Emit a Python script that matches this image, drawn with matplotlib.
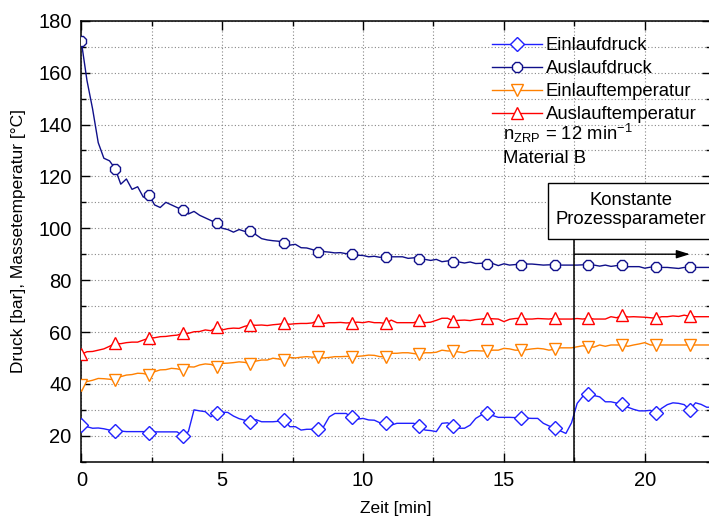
import numpy as np
import matplotlib
matplotlib.use('Agg')
import matplotlib.pyplot as plt
from matplotlib.patches import Rectangle
from matplotlib.ticker import MultipleLocator

plt.rcParams['font.family'] = ['Liberation Sans', 'DejaVu Sans']
plt.rcParams['mathtext.default'] = 'regular'

# sample every 0.2 min, 10 values per row (= 2 min)
step = 0.2

einlaufdruck = [
    24.1, 23.5, 22.9, 23.0, 22.7, 22.2, 21.9, 21.8, 21.6, 21.6,
    21.6, 21.6, 21.2, 21.5, 21.5, 21.5, 21.5, 21.5, 20.0, 21.6,
    30.0, 29.6, 29.3, 27.3, 28.9, 29.1, 29.0, 27.6, 26.6, 26.0,
    25.4, 26.2, 25.4, 25.4, 25.4, 25.6, 26.1, 23.5, 23.5, 22.2,
    22.5, 22.5, 22.5, 23.5, 27.3, 28.6, 28.6, 28.6, 27.1, 26.4,
    26.7, 26.1, 26.0, 25.0, 25.0, 24.1, 24.8, 24.8, 24.8, 24.8,
    23.8, 22.2, 22.0, 21.6, 24.8, 25.0, 23.8, 22.9, 22.9, 24.1,
    26.7, 28.0, 28.9, 27.8, 27.1, 27.1, 27.1, 27.0, 26.7, 26.8,
    26.7, 26.7, 24.8, 23.8, 22.9, 21.9, 20.9, 25.0, 32.5, 35.2,
    36.0, 35.5, 35.0, 33.1, 33.1, 32.6, 32.1, 31.0, 30.2, 29.6,
    29.6, 29.8, 28.6, 30.6, 32.0, 32.7, 32.5, 32.0, 30.0, 32.7,
    32.1, 31.0, 31.0,
]

auslaufdruck = [
    172, 157, 146, 133, 127, 126, 123, 117, 119, 115,
    116, 112, 113, 109, 108, 110, 109, 108, 107, 105.5,
    106.5, 105, 104, 103, 102, 100, 99.5, 98.5, 99.5, 98.8,
    99, 97.5, 96, 95.5, 95.2, 95, 94.2, 93.5, 93.8, 92.5,
    92.4, 91.8, 91, 91, 90.8, 90.5, 90.6, 90.2, 90, 89.6,
    89.5, 89.0, 89.2, 88.8, 89.0, 89.0, 89.0, 89.0, 88.4, 88.6,
    88.1, 88.0, 87.6, 88.0, 87.1, 87.4, 87.0, 87.0, 86.6, 87.0,
    86.4, 86.5, 86.1, 86.4, 85.6, 86.3, 85.8, 86.0, 85.8, 86.2,
    86.2, 86.0, 85.8, 85.9, 85.8, 85.8, 85.8, 85.8, 85.8, 85.9,
    85.8, 85.8, 85.4, 85.8, 85.3, 85.6, 85.8, 85.2, 85.2, 85.2,
    84.6, 85.0, 84.9, 84.9, 84.9, 84.7, 84.5, 84.9, 84.9, 84.9,
    84.9, 84.9, 84.9,
]

einlauftemp = [
    39.6, 40.9, 41.4, 42.1, 42.0, 41.8, 41.5, 42.8, 43.4, 43.6,
    44.1, 44.0, 43.4, 44.7, 45.4, 45.5, 46.0, 45.8, 45.3, 46.6,
    46.5, 47.3, 47.7, 47.5, 46.6, 47.9, 48.0, 48.2, 48.5, 48.3,
    47.7, 48.8, 49.2, 49.2, 49.9, 49.6, 49.2, 50.2, 50.0, 50.3,
    50.5, 50.3, 50.5, 50.0, 50.2, 50.5, 50.5, 50.6, 50.5, 50.6,
    50.8, 51.1, 51.0, 50.5, 50.5, 51.8, 51.8, 52.0, 52.0, 51.7,
    51.4, 52.0, 52.0, 52.2, 53.0, 52.7, 52.7, 52.3, 52.0, 52.8,
    52.8, 52.7, 52.7, 53.0, 53.0, 53.7, 53.5, 53.0, 53.0, 53.2,
    53.5, 53.7, 53.5, 53.0, 53.4, 53.9, 53.9, 53.9, 54.3, 54.7,
    54.2, 54.2, 55.0, 54.5, 55.0, 55.0, 55.0, 54.5, 55.0, 55.4,
    55.9, 55.0, 55.0, 55.0, 55.0, 55.0, 55.0, 55.0, 55.0, 55.0,
    55.0, 55.0, 55.0,
]

auslauftemp = [
    51.4, 52.4, 52.5, 53.0, 53.5, 54.5, 55.6, 55.5, 55.9, 56.1,
    56.1, 56.9, 57.6, 57.8, 58.2, 58.3, 58.6, 58.8, 59.5, 59.5,
    60.1, 60.2, 60.8, 60.5, 62.0, 60.8, 61.3, 61.5, 61.4, 62.2,
    62.7, 62.6, 62.7, 62.5, 62.8, 63.0, 63.3, 63.0, 63.2, 63.3,
    63.3, 63.5, 64.6, 63.3, 63.6, 63.6, 63.7, 63.5, 63.6, 63.8,
    63.6, 64.0, 63.6, 63.6, 63.3, 64.6, 63.6, 63.6, 63.6, 63.6,
    64.6, 63.6, 63.8, 64.5, 65.3, 65.3, 64.3, 64.5, 64.6, 64.4,
    64.8, 65.0, 65.3, 65.1, 65.0, 64.0, 64.9, 65.2, 65.3, 65.0,
    65.0, 65.2, 65.1, 65.0, 65.3, 65.0, 65.0, 65.0, 65.2, 65.0,
    65.3, 65.0, 65.0, 65.0, 65.9, 65.5, 66.5, 65.8, 65.9, 65.8,
    65.7, 65.5, 65.3, 65.9, 65.9, 66.2, 66.0, 66.5, 66.0, 65.9,
    65.9, 65.9, 65.9,
]

t = np.arange(len(auslaufdruck)) * step

# annotation: constant process parameters from 17.5 min
const_t = 17.5

fig = plt.figure(figsize=(7.09, 5.2), dpi=100)
ax = fig.add_axes([0.1147, 0.1121, 0.8881, 0.848])

lw = 1.0
ax.plot(t, einlaufdruck, color='#2020ff', lw=lw, marker='D', ms=6.8, mfc='white',
        mew=1.0, markevery=6, label='Einlaufdruck', zorder=4)
ax.plot(t, auslaufdruck, color='#10108a', lw=lw, marker='8', ms=8.5, mfc='white',
        mew=1.0, markevery=6, label='Auslaufdruck', zorder=4)
ax.plot(t, einlauftemp, color='#ff8000', lw=lw, marker='v', ms=8.5, mfc='white',
        mew=1.0, markevery=6, label='Einlauftemperatur', zorder=4)
ax.plot(t, auslauftemp, color='#ff0000', lw=lw, marker='^', ms=8.5, mfc='white',
        mew=1.0, markevery=6, label='Auslauftemperatur', zorder=4)

ax.set_xlim(0, 22.35)
ax.set_ylim(10, 180)
ax.xaxis.set_major_locator(MultipleLocator(5))
ax.xaxis.set_minor_locator(MultipleLocator(2.5))
ax.yaxis.set_major_locator(MultipleLocator(20))
ax.yaxis.set_minor_locator(MultipleLocator(10))
ax.set_yticks([20, 40, 60, 80, 100, 120, 140, 160, 180])

ax.grid(True, which='both', color='#888888', ls=(0, (1, 2)), lw=0.8)
ax.tick_params(which='both', direction='in', top=True, right=True, width=1.0)
ax.tick_params(which='major', length=6.5, labelsize=14.5, pad=7)
ax.tick_params(which='minor', length=3.5)
for s in ax.spines.values():
    s.set_linewidth(1.1)

ax.set_xlabel('Zeit [min]', fontsize=12.5)
ax.set_ylabel('Druck [bar], Massetemperatur [°C]', fontsize=12.5)
ax.xaxis.set_label_coords(0.5, -0.09)
ax.yaxis.set_label_coords(-0.088, 0.5)

# constant process parameter box + arrow
ax.plot([const_t, const_t], [10, 95.7], color='black', lw=1.1, zorder=5)
ax.add_patch(Rectangle((16.58, 95.7), 8, 21.6, fc='white', ec='black', lw=1.0, zorder=5))
ax.text(19.52, 106.9, 'Konstante\nProzessparameter', ha='center', va='center',
        fontsize=13.3, linespacing=1.15, zorder=6)
ax.annotate('', xy=(21.6, 90), xytext=(const_t, 90),
            arrowprops=dict(arrowstyle='-|>,head_length=0.8,head_width=0.25',
                            color='black', lw=1.0, mutation_scale=10,
                            shrinkA=0, shrinkB=0), zorder=6)

leg = ax.legend(loc='upper left', bbox_to_anchor=(492 / 709, 1 - 37 / 520),
                bbox_transform=fig.transFigure, frameon=False, borderpad=0,
                borderaxespad=0, handlelength=2.7, handletextpad=0.2,
                labelspacing=0.33, fontsize=13.3)

fig.text(503 / 709, 1 - 140 / 520, r'n$_{\mathregular{ZRP}}$ = 12 min$^{\mathregular{-1}}$',
         fontsize=13.3, va='baseline', ha='left')
fig.text(503 / 709, 1 - 163 / 520, 'Material B', fontsize=13.3, va='baseline', ha='left')

plt.savefig('out.png', dpi=100)
